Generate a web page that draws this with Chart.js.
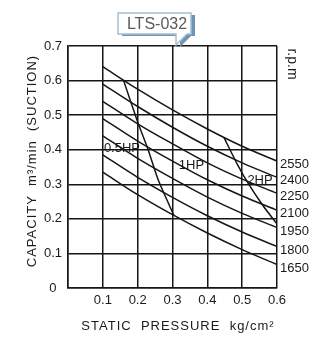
<!DOCTYPE html>
<html>
<head>
<meta charset="utf-8">
<script src="https://cdn.jsdelivr.net/npm/chart.js@4/dist/chart.umd.min.js"></script>
<style>
  html, body { margin: 0; padding: 0; background: #fff; }
  canvas { display: block; }
</style>
</head>
<body>
<canvas id="fan" width="323" height="351"></canvas>
<script>
// Static pressure (kg/cm²) at which each speed curve is sampled
const pressure = [0.1, 0.2, 0.3, 0.4, 0.5, 0.6];

// Suction capacity (m³/min) per fan speed
const rpm2550 = [0.640, 0.575, 0.515, 0.460, 0.410, 0.367];
const rpm2400 = [0.590, 0.525, 0.465, 0.410, 0.362, 0.320];
const rpm2250 = [0.540, 0.475, 0.417, 0.362, 0.315, 0.274];
const rpm2100 = [0.490, 0.425, 0.367, 0.313, 0.266, 0.225];
const rpm1950 = [0.440, 0.375, 0.317, 0.263, 0.216, 0.175];
const rpm1800 = [0.385, 0.320, 0.262, 0.209, 0.162, 0.120];
const rpm1650 = [0.335, 0.270, 0.212, 0.159, 0.111, 0.068];

const speedNames = ['2550', '2400', '2250', '2100', '1950', '1800', '1650'];
const speedSeries = [rpm2550, rpm2400, rpm2250, rpm2100, rpm1950, rpm1800, rpm1650];

// Motor power limit lines (pressure, capacity)
const halfHpX = [0.159, 0.200, 0.230, 0.260, 0.304];
const halfHpY = [0.602, 0.480, 0.400, 0.310, 0.210];
const twoHpX = [0.448, 0.485, 0.520, 0.560, 0.600];
const twoHpY = [0.435, 0.360, 0.298, 0.238, 0.185];

// Power annotations in data coordinates
const powerText = ['0.5HP', '1HP', '2HP'];
const powerAtX = [0.103, 0.318, 0.515];
const powerAtY = [0.405, 0.355, 0.310];

const xTicks = [0.1, 0.2, 0.3, 0.4, 0.5, 0.6];
const yTicks = [0, 0.1, 0.2, 0.3, 0.4, 0.5, 0.6, 0.7];

const INK = '#161616';
const FONT = '"Liberation Sans", Arial, sans-serif';

function pts(xs, ys) { return xs.map((x, i) => ({ x: x, y: ys[i] })); }

const datasets = speedSeries.map((ys, i) => ({
  label: speedNames[i] + ' rpm',
  data: pts(pressure, ys),
  borderColor: INK,
  borderWidth: 1.5,
  pointRadius: 0,
  showLine: true,
  cubicInterpolationMode: 'monotone'
}));
datasets.push({ label: '0.5HP/1HP', data: pts(halfHpX, halfHpY), borderColor: INK, borderWidth: 1.5, pointRadius: 0, showLine: true, tension: 0.2 });
datasets.push({ label: '2HP', data: pts(twoHpX, twoHpY), borderColor: INK, borderWidth: 1.5, pointRadius: 0, showLine: true, tension: 0.2 });

const decorations = {
  id: 'decorations',
  afterDraw(chart) {
    const ctx = chart.ctx;
    const xs = chart.scales.x, ys = chart.scales.y;
    ctx.save();
    ctx.fillStyle = '#1a1a1a';

    // speed labels at the end of each curve
    ctx.font = '13px ' + FONT;
    ctx.textAlign = 'left';
    ctx.textBaseline = 'middle';
    speedSeries.forEach((s, i) => {
      ctx.fillText(speedNames[i], xs.getPixelForValue(0.6) + 3, ys.getPixelForValue(s[s.length - 1]) + 3.5);
    });

    // power labels
    ctx.font = '13px ' + FONT;
    powerText.forEach((t, i) => {
      ctx.fillText(t, xs.getPixelForValue(powerAtX[i]), ys.getPixelForValue(powerAtY[i]));
    });

    // r.p.m heading
    ctx.save();
    ctx.translate(292, 64);
    ctx.rotate(Math.PI / 2);
    ctx.font = '14px ' + FONT;
    ctx.textAlign = 'center';
    ctx.fillText('r.p.m', 0, 0);
    ctx.restore();

    // axis titles
    ctx.letterSpacing = '1px';
    ctx.font = '13px ' + FONT;
    ctx.textAlign = 'center';
    ctx.fillText('STATIC  PRESSURE  kg/cm²', 178, 326);
    ctx.save();
    ctx.translate(32, 161);
    ctx.rotate(-Math.PI / 2);
    ctx.fillText('CAPACITY  m³/min  (SUCTION)', 0, 0);
    ctx.restore();
    ctx.letterSpacing = '0px';

    // model tag bubble
    const bubble = (dx, dy) => {
      ctx.beginPath();
      ctx.moveTo(118 + dx, 13 + dy);
      ctx.lineTo(191 + dx, 13 + dy);
      ctx.lineTo(191 + dx, 34 + dy);
      ctx.lineTo(187 + dx, 34 + dy);
      ctx.lineTo(176 + dx, 45 + dy);
      ctx.lineTo(176 + dx, 34 + dy);
      ctx.lineTo(118 + dx, 34 + dy);
      ctx.closePath();
    };
    bubble(4, 2);
    ctx.fillStyle = '#6f94b4';
    ctx.fill();
    bubble(0, 0);
    ctx.fillStyle = '#ffffff';
    ctx.fill();
    ctx.strokeStyle = '#a3c0d4';
    ctx.lineWidth = 1.5;
    ctx.stroke();
    ctx.fillStyle = '#5a5a5a';
    ctx.font = '16px ' + FONT;
    ctx.textAlign = 'center';
    ctx.fillText('LTS-032', 157, 24.5);
    ctx.restore();
  }
};

new Chart(document.getElementById('fan'), {
  type: 'scatter',
  data: { datasets: datasets },
  options: {
    responsive: false,
    animation: false,
    devicePixelRatio: 1,
    layout: { padding: { top: 46, right: 46, left: 0, bottom: 0 } },
    plugins: { legend: { display: false }, tooltip: { enabled: false } },
    scales: {
      x: {
        type: 'linear', min: 0, max: 0.6,
        afterBuildTicks: s => { s.ticks = [0].concat(xTicks).map(v => ({ value: v })); },
        afterFit: s => { s.height = 63; },
        grid: { color: INK, lineWidth: 1.5, drawTicks: false },
        border: { color: INK, width: 1.5 },
        ticks: {
          padding: 5, color: '#1a1a1a', font: { family: FONT, size: 13 },
          callback: v => (v === 0 ? '' : v.toFixed(1))
        }
      },
      y: {
        type: 'linear', min: 0, max: 0.7,
        afterBuildTicks: s => { s.ticks = yTicks.map(v => ({ value: v })); },
        afterFit: s => { s.width = 68; },
        grid: { color: INK, lineWidth: 1.5, drawTicks: false },
        border: { color: INK, width: 1.5 },
        ticks: {
          padding: 6, crossAlign: 'center', color: '#1a1a1a', font: { family: FONT, size: 13 },
          callback: v => (v === 0 ? '0' : v.toFixed(1))
        }
      }
    }
  },
  plugins: [decorations]
});
</script>
</body>
</html>
